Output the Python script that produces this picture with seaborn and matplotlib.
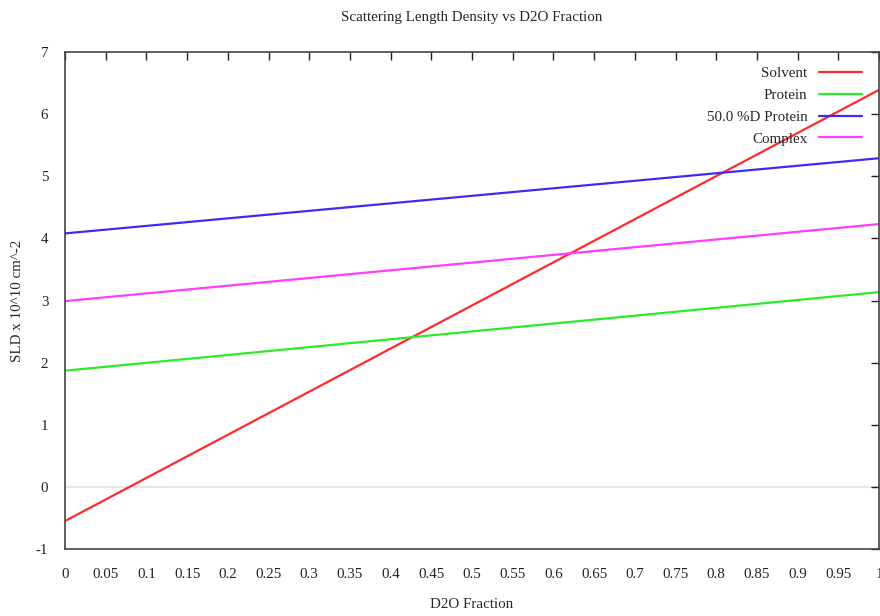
import matplotlib
matplotlib.use("Agg")
import matplotlib.pyplot as plt
import seaborn as sns
import pandas as pd
import numpy as np

# D2O fraction end points and scattering length densities (x 10^10 cm^-2)
d2o_fraction = [0.0, 1.0]
solvent = [-0.55, 6.39]
protein = [1.87, 3.135]
protein_50d = [4.08, 5.29]
complex_sld = [2.99, 4.23]

series_names = ["Solvent", "Protein", "50.0 %D Protein", "Complex"]
series_values = [solvent, protein, protein_50d, complex_sld]
series_colors = ["#ff2a2a", "#2aec2a", "#3d2cf0", "#ff3cff"]

x_ticks = [round(v, 2) for v in np.arange(0, 1.0001, 0.05)]
x_tick_labels = ["0"] + [f"{v:g}" for v in x_ticks[1:]]
y_ticks = list(range(-1, 8))

rows = []
for name, vals in zip(series_names, series_values):
    for x, y in zip(d2o_fraction, vals):
        rows.append({"D2O Fraction": x, "SLD": y, "Series": name})
df = pd.DataFrame(rows)

sns.set_style("white")
plt.rcParams["font.family"] = ["Liberation Serif", "DejaVu Serif"]
plt.rcParams["font.size"] = 11
plt.rcParams["axes.unicode_minus"] = False

fig = plt.figure(figsize=(8.8, 6.16), dpi=100)
ax = fig.add_axes([65 / 880, 1 - 549 / 616, (879 - 65) / 880, (549 - 52) / 616])

ax.axhline(0, color="#e2e2e2", lw=1.3, zorder=0)

sns.lineplot(data=df, x="D2O Fraction", y="SLD", hue="Series",
             hue_order=series_names, palette=series_colors,
             linewidth=1.6, ax=ax, legend=True)

ax.set_xlim(0, 1)
ax.set_ylim(-1, 7)
ax.set_xticks(x_ticks)
ax.set_xticklabels(x_tick_labels)
ax.set_yticks(y_ticks)
ax.tick_params(direction="in", length=6, width=1, top=True, right=True,
               labelsize=10.8, colors="#222222")
ax.tick_params(axis="x", pad=14)
ax.tick_params(axis="y", pad=12)

for side, spine in ax.spines.items():
    spine.set_color("#444444")
    spine.set_linewidth(1.2)
    spine.set_visible(True)

ax.set_xlabel("D2O Fraction", fontsize=10.8)
ax.xaxis.set_label_coords((472 - 65) / (879 - 65), -(604 - 549) / (549 - 52))
ax.set_ylabel("SLD x 10^10 cm^-2", fontsize=10.8)
ax.yaxis.set_label_coords(-(65 - 17) / (879 - 65), 0.5)
ax.xaxis.label.set_va("center")
ax.yaxis.label.set_va("center")

fig.text(472 / 880, 1 - 17 / 616,
         "Scattering Length Density vs D2O Fraction",
         ha="center", va="center", fontsize=10.8)

handles, labels = ax.get_legend_handles_labels()
leg = ax.legend(handles, labels, loc="upper right", frameon=False,
                markerfirst=False, handlelength=2.9, handletextpad=0.75,
                labelspacing=0.55, fontsize=10.8,
                bbox_to_anchor=(0.996, 0.997))

fig.savefig("out.png", dpi=100)
